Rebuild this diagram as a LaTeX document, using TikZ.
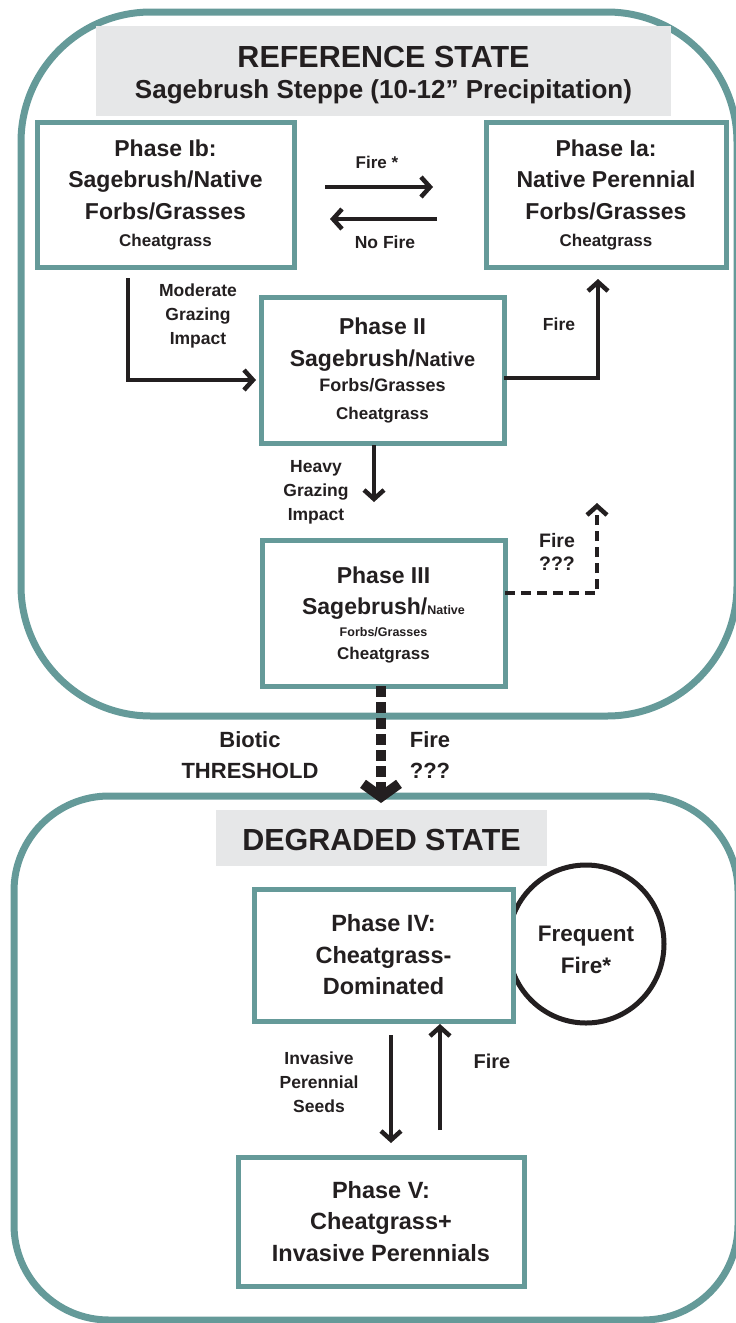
\documentclass[tikz,border=0pt]{standalone}
\usepackage{fontspec}
\setmainfont{Liberation Sans}
\usetikzlibrary{arrows.meta,shapes.geometric}
\definecolor{stateteal}{RGB}{101,154,153}
\definecolor{titlegray}{RGB}{230,231,232}
\definecolor{ink}{RGB}{35,31,32}
\newcommand{\myfs}[2]{\fontsize{#1}{#2}\selectfont}
\begin{document}
\begin{tikzpicture}[x=1pt,y=-1pt,
  statebox/.style={draw=stateteal, line width=7pt, inner sep=0pt, outer sep=0pt},
  phasebox/.style={draw=stateteal, line width=5pt, fill=white, inner sep=0pt, outer sep=0pt, align=center, text=ink},
  titlebox/.style={fill=titlegray, inner sep=0pt, outer sep=0pt, align=center, text=ink},
  lbl/.style={align=center, text=ink, inner sep=0pt},
  arr/.style={draw=ink, line width=4.5pt, -{Straight Barb[length=9pt,width=20pt]}},
  dasharr/.style={arr, dash pattern=on 10pt off 6pt},
  thresh/.style={draw=ink, line width=10pt, dash pattern=on 11pt off 5pt, -{Straight Barb[length=13pt,width=36pt]}}
]
\useasboundingbox (0,0) rectangle (736,1323);
\clip (0,0) rectangle (736,1323);

% state containers
\node[statebox, rounded corners=130pt, minimum width=716pt, minimum height=704pt] (ref) at (379,364) {};
\node[statebox, rounded corners=95pt, minimum width=724pt, minimum height=524pt] (deg) at (376,1058) {};

% titles
\node[titlebox, minimum width=575pt, minimum height=90pt, font=\bfseries\myfs{30.5}{31}] (rt) at (383.5,71)
  {\rule{0pt}{30pt}REFERENCE STATE\\\myfs{26}{31}Sagebrush Steppe (10-12” Precipitation)};
\node[titlebox, minimum width=331pt, minimum height=56pt, font=\bfseries\myfs{30.5}{31}] (dt) at (381.5,838)
  {\rule{0pt}{26pt}DEGRADED STATE};

% phases
\node[phasebox, minimum width=257pt, minimum height=145pt, font=\bfseries\myfs{23}{27}] (p1b) at (165.5,194.5)
  {Phase Ib:\\[4pt]Sagebrush/Native\\[5pt]Forbs/Grasses\\\myfs{17}{27}Cheatgrass};
\node[phasebox, minimum width=240pt, minimum height=145pt, font=\bfseries\myfs{23}{27}] (p1a) at (606,194.5)
  {Phase Ia:\\[4pt]Native Perennial\\[5pt]Forbs/Grasses\\\myfs{17}{27}Cheatgrass};
\node[phasebox, minimum width=243pt, minimum height=146pt, font=\bfseries\myfs{23}{25}] (p2) at (382.5,370)
  {Phase II\\[7pt]Sagebrush/\myfs{20}{25}Native\\\myfs{18}{25}Forbs/Grasses\\[3pt]\myfs{17}{25}Cheatgrass};
\node[phasebox, minimum width=243pt, minimum height=146pt, font=\bfseries\myfs{23}{22}] (p3) at (383.5,613)
  {\rule{0pt}{20pt}Phase III\\[9pt]Sagebrush/\myfs{12.5}{22}Native\\\myfs{12.5}{22}Forbs/Grasses\\[1pt]\myfs{17}{22}Cheatgrass};
\node[draw=ink, line width=5pt, ellipse, minimum width=156pt, minimum height=158pt, inner sep=0pt, align=center, text=ink, font=\bfseries\myfs{22.5}{32}] (ff) at (586,944)
  {\rule{0pt}{27pt}Frequent\\Fire*};
\node[phasebox, minimum width=259pt, minimum height=132pt, font=\bfseries\myfs{23.5}{31.5}] (p4) at (383.5,955)
  {Phase IV:\\Cheatgrass-\\Dominated};
\node[phasebox, minimum width=286pt, minimum height=129pt, font=\bfseries\myfs{23.5}{31.5}] (p5) at (381,1221.5)
  {Phase V:\\Cheatgrass+\\Invasive Perennials};

% labels
\node[lbl, font=\bfseries\myfs{17}{24}] (lfire1) at (377,162) {Fire *};
\node[lbl, font=\bfseries\myfs{17.5}{24}] (lnofire) at (385,242) {No Fire};
\node[lbl, font=\bfseries\myfs{17.5}{24}] (lmod) at (198,315.5) {Moderate\\Grazing\\Impact};
\node[lbl, font=\bfseries\myfs{17.5}{24}] (lfire2) at (559,324) {Fire};
\node[lbl, font=\bfseries\myfs{17.5}{24}] (lheavy) at (316,492.5) {Heavy\\Grazing\\Impact};
\node[lbl, font=\bfseries\myfs{19.5}{23}] (lfire3) at (557,551.5) {Fire\\???};
\node[lbl, font=\bfseries\myfs{22}{31}] (lbiotic) at (250,755) {Biotic\\THRESHOLD};
\node[lbl, font=\bfseries\myfs{22}{31}] (lfire4) at (430,755) {Fire\\???};
\node[lbl, font=\bfseries\myfs{17.5}{24}] (linv) at (319,1082.5) {Invasive\\Perennial\\Seeds};
\node[lbl, font=\bfseries\myfs{20}{24}] (lfire5) at (492,1061) {Fire};

% connectors
\draw[arr, shorten <=31pt, shorten >=53pt] ([yshift=7.5pt]p1b.east) -- ([yshift=7.5pt]p1a.west);
\draw[arr, shorten <=49pt, shorten >=36pt] ([yshift=-24.5pt]p1a.west) -- ([yshift=-24.5pt]p1b.east);
\draw[arr, shorten >=5pt] ([xshift=91pt,yshift=-11pt]p1b.south west) |- ([yshift=-10pt]p2.west);
\draw[arr, shorten >=12pt] ([yshift=-8pt]p2.east) -| ([xshift=-8pt]p1a.south);
\draw[arr, shorten <=2pt, shorten >=38pt] ([xshift=-8.5pt]p2.south) -- ([xshift=-8.5pt]p2.south |- p3.north);
\coordinate (firetop) at (597,503);
\draw[dasharr] ([yshift=20pt]p3.east) -| (firetop);
\draw[thresh, shorten >=-7pt] ([xshift=-2.5pt]p3.south) -- ([xshift=-2.5pt]p3.south |- deg.north);
\draw[arr, shorten <=14pt, shorten >=14pt] ([xshift=7.5pt]p4.south) -- ([xshift=7.5pt]p4.south |- p5.north);
\draw[arr, shorten <=27pt, shorten >=3pt] ([xshift=56.5pt]p4.south |- p5.north) -- ([xshift=56.5pt]p4.south);
\end{tikzpicture}
\end{document}
